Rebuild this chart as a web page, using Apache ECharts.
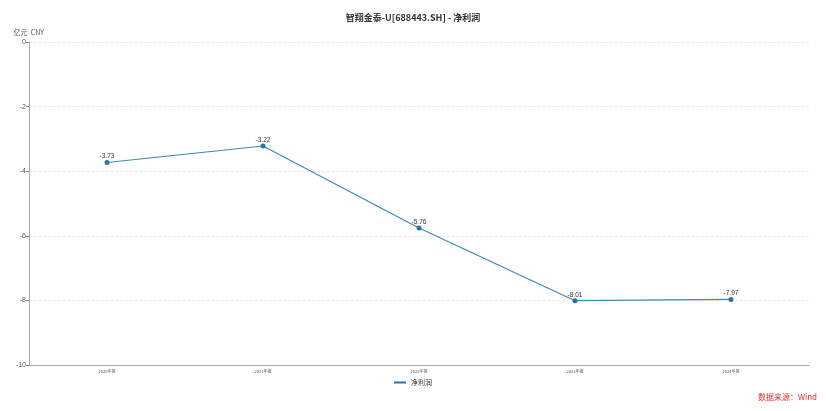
<!DOCTYPE html>
<html><head><meta charset="utf-8">
<script src="https://cdn.jsdelivr.net/npm/echarts@6/dist/echarts.min.js"></script>
<style>html,body{margin:0;padding:0;background:#fff}#c{width:826px;height:411px}</style>
</head><body><div id="c"></div>
<script>
const categories = ['2020年报','2021年报','2022年报','2023年报','2024年报'];
const netProfit = [-3.73, -3.22, -5.76, -8.01, -7.97];
const yTicks = {min: -10, max: 0, interval: 2};
const chart = echarts.init(document.getElementById('c'));
chart.setOption({
  animation: false,
  title: {text: '智翔金泰-U[688443.SH] - 净利润', left: 'center', top: 8,
    textStyle: {fontSize: 9, fontWeight: 'bold', color: '#333', fontFamily: 'Noto Sans CJK SC'}},
  graphic: [{type: 'text', right: 9, bottom: 10,
    style: {text: '数据来源：Wind', fill: '#e03030', fontSize: 8, fontFamily: 'Noto Sans CJK SC'}}],
  legend: {bottom: 20, left: 'center', itemWidth: 12, itemHeight: 2, itemGap: 4,
    icon: 'rect',
    textStyle: {fontSize: 7, color: '#333', fontFamily: 'Noto Sans CJK SC'},
    data: ['净利润']},
  grid: {left: 29, right: 17, top: 42, bottom: 46},
  xAxis: {type: 'category', data: categories, boundaryGap: true,
    axisLine: {onZero: false, lineStyle: {color: '#aaa'}},
    axisTick: {alignWithLabel: true, lineStyle: {color: '#888'}, length: 3},
    axisLabel: {fontSize: 4, color: '#555', margin: 4, fontFamily: 'Noto Sans CJK SC'}},
  yAxis: {type: 'value', min: yTicks.min, max: yTicks.max, interval: yTicks.interval,
    name: '亿元  CNY', nameLocation: 'end', nameGap: 6,
    nameTextStyle: {fontSize: 7, color: '#555', align: 'right', padding: [0, -15, 0, 0], fontFamily: 'Noto Sans CJK SC'},
    axisLine: {show: true, lineStyle: {color: '#aaa'}},
    axisTick: {show: true, length: 3, lineStyle: {color: '#888'}},
    axisLabel: {fontSize: 7, color: '#555', margin: 3},
    splitLine: {lineStyle: {type: 'dashed', color: '#e6e6e6', width: 0.8}}},
  series: [{name: '净利润', type: 'line', data: netProfit,
    symbol: 'circle', symbolSize: 5,
    lineStyle: {color: '#3d8ab5', width: 1.2},
    itemStyle: {color: '#2a73a3'},
    label: {show: true, position: 'top', fontSize: 6.5, color: '#333', distance: 0}}]
});
</script></body></html>
